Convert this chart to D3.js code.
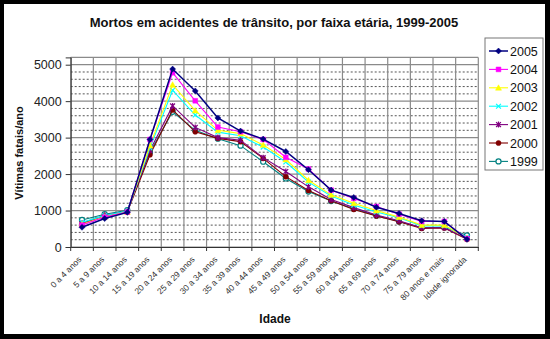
<!DOCTYPE html>
<html><head><meta charset="utf-8">
<script src="https://cdn.jsdelivr.net/npm/d3@7"></script>
<style>body{margin:0;background:#000}svg{display:block}</style>
</head><body><svg id="c" width="550" height="339"></svg>
<script>
const categories = ["0 a 4 anos","5 a 9 anos","10 a 14 anos","15 a 19 anos","20 a 24 anos","25 a 29 anos","30 a 34 anos","35 a 39 anos","40 a 44 anos","45 a 49 anos","50 a 54 anos","55 a 59 anos","60 a 64 anos","65 a 69 anos","70 a 74 anos","75 a 79 anos","80 anos e mais","Idade ignorada"];
const years = ["2005","2004","2003","2002","2001","2000","1999"];
const v2005 = [540, 780, 950, 2950, 4880, 4280, 3540, 3180, 2960, 2620, 2120, 1560, 1360, 1090, 920, 720, 700, 210];
const v2004 = [600, 820, 960, 2950, 4780, 4010, 3290, 3160, 2950, 2460, 2140, 1560, 1330, 1110, 900, 700, 700, 230];
const v2003 = [620, 830, 960, 2780, 4450, 3740, 3200, 3110, 2800, 2400, 1830, 1430, 1200, 1000, 820, 600, 600, 240];
const v2002 = [680, 860, 980, 2720, 4300, 3620, 3150, 3050, 2740, 2330, 1780, 1400, 1150, 960, 800, 580, 580, 260];
const v2001 = [650, 870, 970, 2650, 3870, 3280, 3000, 2930, 2450, 2070, 1650, 1300, 1080, 880, 720, 530, 530, 230];
const v2000 = [640, 850, 960, 2530, 3760, 3160, 2980, 2890, 2430, 1930, 1550, 1270, 1030, 850, 690, 510, 520, 210];
const v1999 = [740, 900, 1010, 2600, 3710, 3200, 2970, 2780, 2340, 1880, 1520, 1260, 1050, 860, 700, 530, 540, 320];
const yTicks = [0, 1000, 2000, 3000, 4000, 5000];
const title = "Mortos em acidentes de trânsito, por faixa etária, 1999-2005";
const yTitle = "Vítimas fatais/ano";
const xTitle = "Idade";

const seriesValues = [v2005, v2004, v2003, v2002, v2001, v2000, v1999];
const colors = ["#000080","#ff00ff","#ffff00","#00ffff","#800080","#800000","#008080"];
const markers = ["diamond","square","triangle","x","star","circle","ocircle"];

const svg = d3.select("#c");
const font = "'Liberation Sans', Arial, sans-serif";
svg.append("rect").attr("width",550).attr("height",339).attr("fill","#000");
svg.append("rect").attr("x",4).attr("y",4).attr("width",541).attr("height",330).attr("fill","#fff");

const x = d3.scaleBand().domain(categories).range([70.7, 478.3]);
const y = d3.scaleLinear().domain([0, 5200]).range([247, 57.4]);

// minor gridlines
const g = svg.append("g");
const minor = d3.range(200, 5200, 200).filter(v => v % 1000 !== 0);
g.selectAll(".mn").data(minor).join("line")
  .attr("x1", x.range()[0]).attr("x2", x.range()[1])
  .attr("y1", d => y(d)).attr("y2", d => y(d))
  .attr("stroke","#555").attr("stroke-width",1).attr("stroke-dasharray","2,2");
// vertical gridlines
const bounds = categories.map(c => x(c)).concat([x.range()[1]]);
g.selectAll(".vg").data(bounds).join("line")
  .attr("x1", d => d).attr("x2", d => d)
  .attr("y1", y(0)).attr("y2", y(5200))
  .attr("stroke","#8a8a8a").attr("stroke-width",1.2);
// major gridlines
g.selectAll(".mj").data(yTicks.concat([5200])).join("line")
  .attr("x1", x.range()[0]).attr("x2", x.range()[1])
  .attr("y1", d => y(d)).attr("y2", d => y(d))
  .attr("stroke","#8a8a8a").attr("stroke-width",1.2);

// axes
const yAxis = d3.axisLeft(y).tickValues(yTicks).tickSize(5).tickPadding(4).tickFormat(d3.format("d"));
const ya = svg.append("g").attr("transform",`translate(${x.range()[0]},0)`).call(yAxis);
ya.select(".domain").attr("stroke","#333");
ya.selectAll(".tick line").attr("stroke","#333");
ya.selectAll("text").attr("font-family",font).attr("font-size",12.5).attr("fill","#222");

const xAxis = d3.axisBottom(x).tickSize(0).tickFormat("");
const xa = svg.append("g").attr("transform",`translate(0,${y(0)})`).call(xAxis);
xa.select(".domain").attr("stroke","#333");
xa.selectAll(".bt").data(bounds).join("line").attr("class","bt")
  .attr("x1", d => d).attr("x2", d => d).attr("y1",0).attr("y2",4).attr("stroke","#333");
xa.selectAll(".lbl").data(categories).join("text").attr("class","lbl")
  .attr("transform", d => `translate(${x(d) + x.bandwidth()/2 - 2},${11}) rotate(-45)`)
  .attr("text-anchor","end").attr("dy","0.35em")
  .attr("font-family",font).attr("font-size",8.5).attr("fill","#333")
  .text(d => d);

function markerPath(type, s) {
  switch(type) {
    case "diamond": return `M0,${-s}L${s},0L0,${s}L${-s},0Z`;
    case "square": return `M${-s*0.8},${-s*0.8}h${s*1.6}v${s*1.6}h${-s*1.6}Z`;
    case "triangle": return `M0,${-s}L${s},${s*0.8}L${-s},${s*0.8}Z`;
    case "x": return `M${-s*0.8},${-s*0.8}L${s*0.8},${s*0.8}M${-s*0.8},${s*0.8}L${s*0.8},${-s*0.8}`;
    case "star": return `M${-s*0.8},${-s*0.8}L${s*0.8},${s*0.8}M${-s*0.8},${s*0.8}L${s*0.8},${-s*0.8}M0,${-s}L0,${s}`;
    default: return d3.arc()({innerRadius:0, outerRadius:s*0.85, startAngle:0, endAngle:2*Math.PI});
  }
}
function drawMarker(sel, i, s) {
  const t = markers[i], c = colors[i];
  sel.attr("d", markerPath(t, s));
  if (t === "x" || t === "star") sel.attr("fill","none").attr("stroke",c).attr("stroke-width",1.2);
  else if (t === "ocircle") sel.attr("fill","#fff").attr("stroke",c).attr("stroke-width",1.2);
  else sel.attr("fill",c).attr("stroke",c).attr("stroke-width",0.5);
}

const line = d3.line().x((d,i) => x(categories[i]) + x.bandwidth()/2).y(d => y(d));
// draw from 1999 up so 2005 ends on top
for (let i = seriesValues.length - 1; i >= 0; i--) {
  const vals = seriesValues[i];
  const sg = svg.append("g");
  sg.append("path").attr("d", line(vals)).attr("fill","none")
    .attr("stroke", colors[i]).attr("stroke-width", i === 0 ? 1.5 : 1.1);
  sg.selectAll("path.m").data(vals).join("path").attr("class","m")
    .attr("transform", (d,k) => `translate(${x(categories[k]) + x.bandwidth()/2},${y(d)})`)
    .each(function(){ drawMarker(d3.select(this), i, 3); });
}

// legend
const lg = svg.append("g");
lg.append("rect").attr("x",485).attr("y",38).attr("width",58).attr("height",132)
  .attr("fill","#fff").attr("stroke","#777").attr("stroke-width",1);
years.forEach((yr,i) => {
  const cy = 51 + i*18.4;
  lg.append("line").attr("x1",489).attr("x2",508).attr("y1",cy).attr("y2",cy)
    .attr("stroke",colors[i]).attr("stroke-width", i===0?1.5:1.1);
  lg.append("path").attr("transform",`translate(498.5,${cy})`).call(s => drawMarker(s, i, 3));
  lg.append("text").attr("x",510).attr("y",cy).attr("dy","0.36em")
    .attr("font-family",font).attr("font-size",12.5).attr("fill","#111").text(yr);
});

// titles
svg.append("text").attr("x",274).attr("y",27).attr("text-anchor","middle")
  .attr("font-family",font).attr("font-weight","bold").attr("font-size",13).attr("fill","#111").text(title);
svg.append("text").attr("transform","translate(23,153) rotate(-90)").attr("text-anchor","middle")
  .attr("font-family",font).attr("font-weight","bold").attr("font-size",11).attr("fill","#111").text(yTitle);
svg.append("text").attr("x",275).attr("y",323).attr("text-anchor","middle")
  .attr("font-family",font).attr("font-weight","bold").attr("font-size",12).attr("fill","#111").text(xTitle);
</script></body></html>
